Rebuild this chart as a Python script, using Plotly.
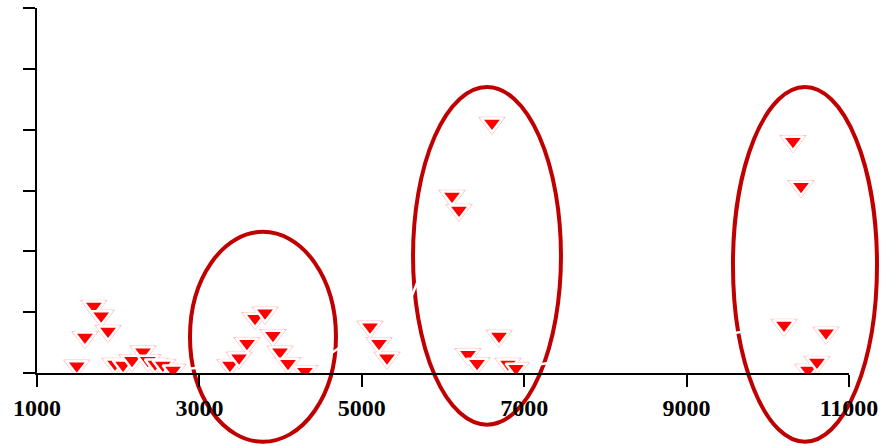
import plotly.graph_objects as go

# Measured points (x position, response)
x_vals = [1490, 1590, 1700, 1790, 1875, 1960, 2060, 2170, 2305, 2365, 2455, 2550, 2675,
          3377, 3488, 3586, 3685, 3808, 3906, 3993, 4091, 4300,
          5101, 5212, 5310,
          6111, 6197, 6308, 6419, 6603, 6690, 6800, 6899,
          10200, 10310, 10409, 10495, 10606, 10717]
y_vals = [0.12, 0.59, 1.10, 0.94, 0.69, 0.15, 0.13, 0.21, 0.35, 0.21, 0.15, 0.13, 0.05,
          0.13, 0.25, 0.49, 0.90, 0.99, 0.62, 0.35, 0.16, 0.03,
          0.76, 0.49, 0.25,
          2.91, 2.68, 0.31, 0.16, 4.11, 0.61, 0.15, 0.08,
          0.79, 3.81, 3.07, 0.05, 0.18, 0.66]

x_ticks = [1000, 3000, 5000, 7000, 9000, 11000]
y_ticks = [0, 1, 2, 3, 4, 5, 6]

# Highlighted clusters: (x0, x1, y0, y1) in data units
clusters = [
    (2884, 4682, -1.13, 2.32),
    (5631, 7453, -0.85, 4.70),
    (9571, 11345, -1.13, 4.70),
]

X_RANGE = (1000, 11000)
Y_RANGE = (0, 6)

pts = sorted(zip(x_vals, y_vals))
xs = [p[0] for p in pts]
ys = [p[1] for p in pts]

fig = go.Figure()

# thin white connector through the points (shows where it crosses the ellipses)
fig.add_trace(go.Scatter(
    x=xs, y=ys, mode="lines",
    line=dict(color="white", width=2.5),
    hoverinfo="skip", showlegend=False,
))
# soft pink halo around each marker
fig.add_trace(go.Scatter(
    x=xs, y=ys, mode="markers",
    marker=dict(symbol="triangle-down", size=23, color="white",
                line=dict(color="#ffc2c2", width=1)),
    hoverinfo="skip", showlegend=False,
))
fig.add_trace(go.Scatter(
    x=xs, y=ys, mode="markers",
    marker=dict(symbol="triangle-down", size=18, color="#ff0000",
                line=dict(color="white", width=2.5)),
    showlegend=False,
))

def to_paper_x(v):
    return (v - X_RANGE[0]) / (X_RANGE[1] - X_RANGE[0])

def to_paper_y(v):
    return (v - Y_RANGE[0]) / (Y_RANGE[1] - Y_RANGE[0])

for x0, x1, y0, y1 in clusters:
    fig.add_shape(
        type="circle", xref="paper", yref="paper", layer="below",
        x0=to_paper_x(x0), x1=to_paper_x(x1),
        y0=to_paper_y(y0), y1=to_paper_y(y1),
        line=dict(color="#c00000", width=4),
    )

fig.update_layout(
    width=883, height=446,
    margin=dict(l=37, r=34, t=8, b=73, autoexpand=False),
    plot_bgcolor="white", paper_bgcolor="white",
)
fig.update_xaxes(
    range=list(X_RANGE), tickvals=x_ticks, ticktext=[str(t) for t in x_ticks],
    showgrid=False, zeroline=False, automargin=False,
    showline=True, linecolor="black", linewidth=2,
    ticks="outside", ticklen=12, tickwidth=2, tickcolor="black",
    tickfont=dict(family="Liberation Serif", size=24, color="black", weight="bold"),
)
fig.update_yaxes(
    range=list(Y_RANGE), tickvals=y_ticks, showticklabels=False,
    showgrid=False, zeroline=False, automargin=False,
    showline=True, linecolor="black", linewidth=2,
    ticks="outside", ticklen=12, tickwidth=2, tickcolor="black",
)

fig.write_html("out.html")
